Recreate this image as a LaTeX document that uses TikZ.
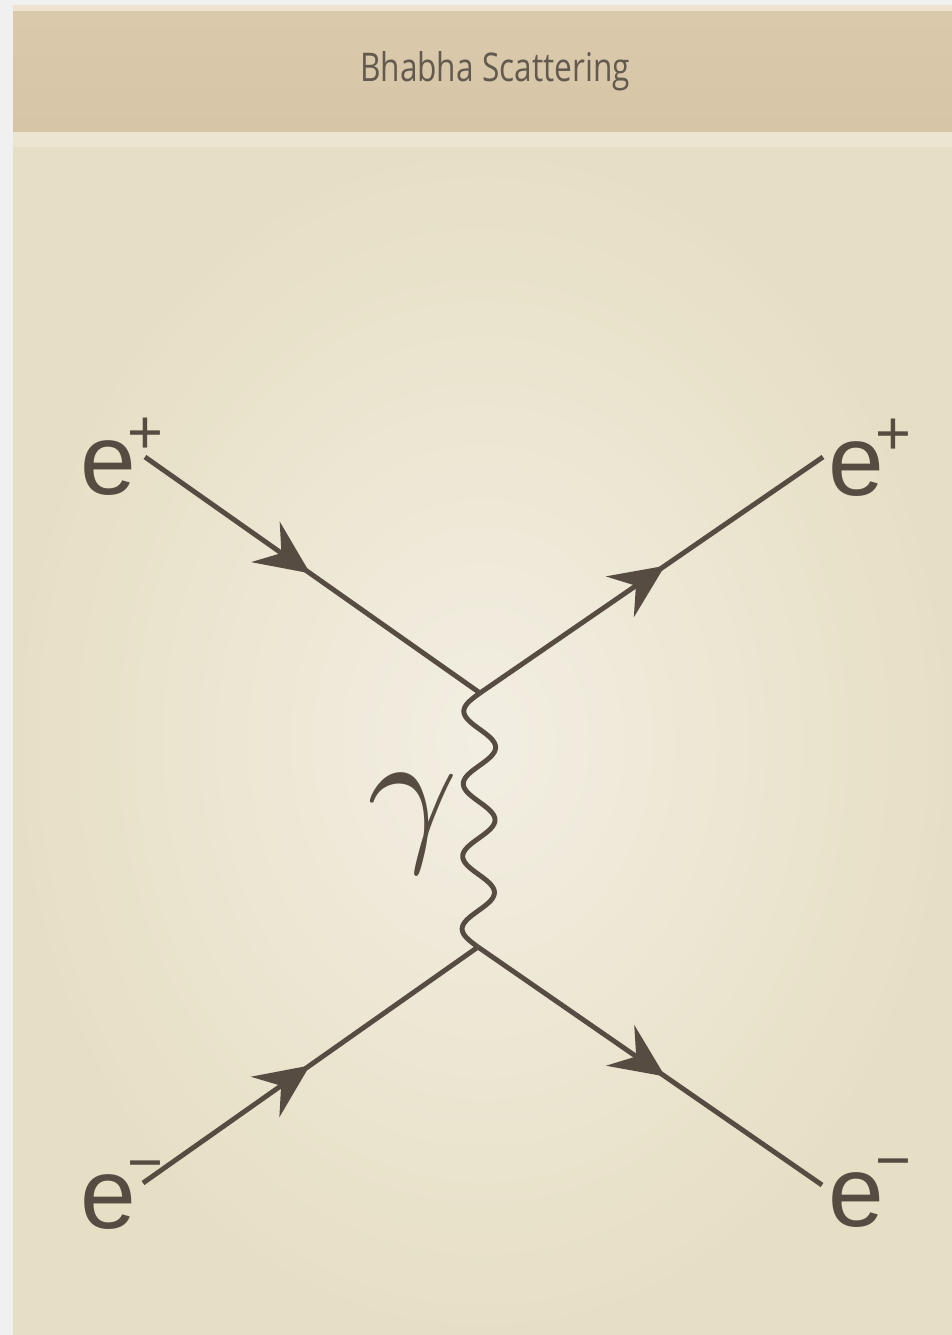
\documentclass[tikz,border=0pt]{standalone}
\usepackage{fontspec}
\setmainfont{Liberation Sans}
\newfontfamily\titlefont{Open Sans}[FakeStretch=0.8]
\usetikzlibrary{arrows.meta,decorations.markings}
\definecolor{ink}{HTML}{574C41}
\definecolor{titleink}{HTML}{625A4F}
\definecolor{outerbg}{HTML}{F0F0F0}
\definecolor{toplight}{HTML}{EDE3CE}
\definecolor{headtop}{HTML}{DACAAB}
\definecolor{headbot}{HTML}{D6C5A6}
\definecolor{strip}{HTML}{ECE5D2}
\definecolor{panelin}{HTML}{F2EEE2}
\definecolor{panelout}{HTML}{E7DFC5}
\begin{document}
\begin{tikzpicture}[x=0.02cm,y=-0.02cm,
  fermion/.style={draw=ink, line width=2.8pt, postaction={decorate},
    decoration={markings, mark=at position #1 with {\arrow{Stealth[length=31pt,width=28pt,inset=11pt]}}}},
  wave/.style={draw=ink, line width=2.8pt, line join=round},
  lbl/.style={text=ink, inner sep=0pt, font=\fontsize{57}{57}\selectfont},
  glabel/.style={text=ink, inner sep=0pt},
  titlestyle/.style={text=titleink, inner sep=0pt, font=\titlefont\fontsize{22.5}{26}\selectfont}]
\useasboundingbox (0,0) rectangle (952,1335);
% backgrounds
\fill[outerbg] (0,0) rectangle (952,1335);
\fill[toplight] (13,5) rectangle (952,12);
\shade[top color=headtop, bottom color=headbot] (13,12) rectangle (952,132);
\fill[strip] (13,132) rectangle (952,147);
\shade[inner color=panelin, outer color=panelout] (13,147) rectangle (952,1335);
% title
\node[titlestyle] (title) at (495,71) {Bhabha Scattering};
% labels
\node[lbl] (eTL) at (108,457) {e\rlap{\kern-5pt\raisebox{23.5pt}{\fontsize{35}{35}\selectfont +}}};
\node[lbl] (eTR) at (856,458) {e\rlap{\kern-5pt\raisebox{23.5pt}{\fontsize{35}{35}\selectfont +}}};
\node[lbl] (eBL) at (108,1195) {e\rlap{\kern-5pt\raisebox{25.5pt}{\fontsize{35}{35}\selectfont −}}};
\node[lbl] (eBR) at (856,1193) {e\rlap{\kern-5pt\raisebox{25.5pt}{\fontsize{35}{35}\selectfont −}}};
\node[glabel] (gam) at (413,824) {\scalebox{9}{$\gamma$}};
% coordinates
\coordinate (aTL) at (145,457);
\coordinate (aTR) at (823,457);
\coordinate (aBL) at (143,1183);
\coordinate (aBR) at (822,1185);
\coordinate (v1) at (480,693);
\coordinate (v2) at (478,947);
% fermion lines
\draw[fermion=0.493] (aTL) -- (v1);
\draw[fermion=0.539] (v1) -- (aTR);
\draw[fermion=0.498] (aBL) -- (v2);
\draw[fermion=0.544] (v2) -- (aBR);
% photon
\draw[wave] (v1) -- plot[domain=0:1, samples=220, smooth] ({480-2*\x-16*sin(\x*1260)}, {693+254*\x}) -- (v2);
\end{tikzpicture}
\end{document}
